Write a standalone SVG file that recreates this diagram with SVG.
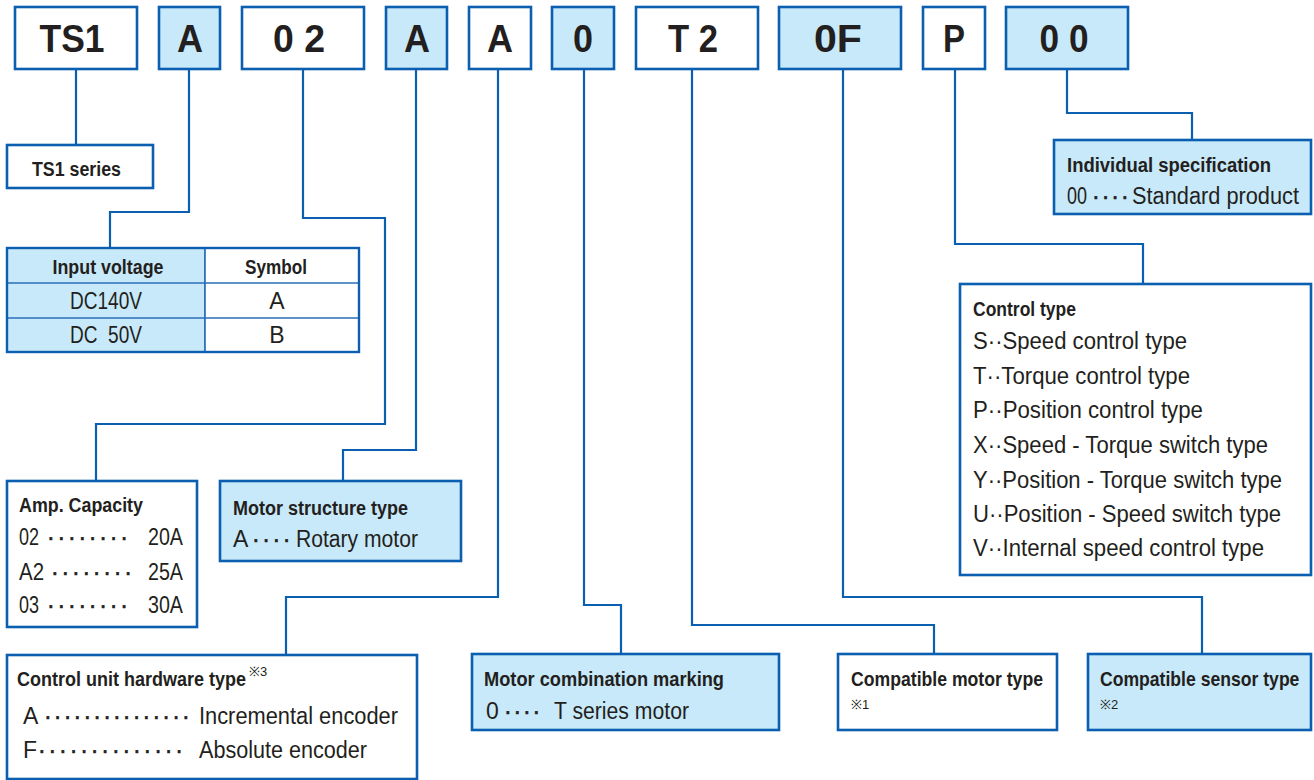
<svg xmlns="http://www.w3.org/2000/svg" width="1314" height="780" viewBox="0 0 1314 780">
<style>
.bw{fill:#ffffff;stroke:#0a5fb0;stroke-width:2.6}
.bb{fill:#c8e9f9;stroke:#0a5fb0;stroke-width:2.6}
.tb{fill:#c8e9f9;stroke:#2a6fb8;stroke-width:1.6}
.cn{fill:none;stroke:#0a5fb0;stroke-width:2.2}
text{font-family:"Liberation Sans",Arial,sans-serif;fill:#231f20}
.big{font-size:38px;font-weight:bold;text-anchor:middle}
.t{font-size:20px;font-weight:bold}
.r{font-size:23px}
.d{font-size:23px;stroke:#231f20;stroke-width:0.6}
.s{font-size:13px}
.c{text-anchor:middle}
</style>
<g id="connectors">
<path class="cn" d="M76 69V145"/>
<path class="cn" d="M189 69V212H110V248"/>
<path class="cn" d="M303 69V218H385V424H96V481"/>
<path class="cn" d="M416 69V450H343V481"/>
<path class="cn" d="M498 69V597H286V655"/>
<path class="cn" d="M584 69V605H621V654"/>
<path class="cn" d="M692 69V625H934V654"/>
<path class="cn" d="M843 69V597H1202V654"/>
<path class="cn" d="M955 69V244H1143V284"/>
<path class="cn" d="M1067 69V113H1192V140"/>
</g>
<g id="code-TS1"><rect class="bw" x="15" y="7" width="122" height="62"/><text class="big" x="72" y="52" textLength="65" lengthAdjust="spacingAndGlyphs">TS1</text></g>
<g id="code-A1"><rect class="bb" x="159" y="7" width="61" height="62"/><text class="big" x="190" y="52" textLength="26" lengthAdjust="spacingAndGlyphs">A</text></g>
<g id="code-02"><rect class="bw" x="242" y="7" width="122" height="62"/><text class="big" x="299" y="52" textLength="52" lengthAdjust="spacingAndGlyphs">0 2</text></g>
<g id="code-A2"><rect class="bb" x="386" y="7" width="61" height="62"/><text class="big" x="417" y="52" textLength="26" lengthAdjust="spacingAndGlyphs">A</text></g>
<g id="code-A3"><rect class="bw" x="469" y="7" width="62" height="62"/><text class="big" x="500" y="52" textLength="26" lengthAdjust="spacingAndGlyphs">A</text></g>
<g id="code-0"><rect class="bb" x="552" y="7" width="62" height="62"/><text class="big" x="583" y="52" textLength="20" lengthAdjust="spacingAndGlyphs">0</text></g>
<g id="code-T2"><rect class="bw" x="636" y="7" width="122" height="62"/><text class="big" x="693" y="52" textLength="50" lengthAdjust="spacingAndGlyphs">T 2</text></g>
<g id="code-0F"><rect class="bb" x="779" y="7" width="122" height="62"/><text class="big" x="838" y="52" textLength="48" lengthAdjust="spacingAndGlyphs">0F</text></g>
<g id="code-P"><rect class="bw" x="923" y="7" width="62" height="62"/><text class="big" x="954" y="52" textLength="22" lengthAdjust="spacingAndGlyphs">P</text></g>
<g id="code-00"><rect class="bb" x="1006" y="7" width="122" height="62"/><text class="big" x="1064" y="52" textLength="49" lengthAdjust="spacingAndGlyphs">0 0</text></g>

<g id="series"><rect class="bw" x="7" y="145" width="146" height="43"/><text class="t" x="32" y="176" textLength="89" lengthAdjust="spacingAndGlyphs">TS1 series</text></g>

<g id="input-voltage">
<rect class="tb" x="7" y="248" width="198" height="104"/>
<rect x="205" y="248" width="154" height="104" fill="#ffffff" stroke="#2a6fb8" stroke-width="1.6"/>
<path d="M7 283H359M7 318H359" stroke="#2a6fb8" stroke-width="1.6" fill="none"/>
<rect x="7" y="248" width="352" height="104" fill="none" stroke="#0a5fb0" stroke-width="2.4"/>
<text class="t c" x="108" y="274" textLength="111" lengthAdjust="spacingAndGlyphs">Input voltage</text>
<text class="t c" x="276" y="274" textLength="62" lengthAdjust="spacingAndGlyphs">Symbol</text>
<text class="r c" x="106" y="309" textLength="72" lengthAdjust="spacingAndGlyphs">DC140V</text>
<text class="r c" x="277" y="309">A</text>
<text class="r c" x="106" y="343" textLength="72" lengthAdjust="spacingAndGlyphs" xml:space="preserve">DC  50V</text>
<text class="r c" x="277" y="343">B</text>
</g>

<g id="amp-capacity">
<rect class="bw" x="7" y="481" width="190" height="146"/>
<text class="t" x="19" y="512" textLength="124" lengthAdjust="spacingAndGlyphs">Amp. Capacity</text>
<text class="r" x="19" y="545" textLength="20" lengthAdjust="spacingAndGlyphs">02</text><text class="d" x="47" y="545" style="letter-spacing:2.8px">········</text><text class="r" x="148" y="545" textLength="35" lengthAdjust="spacingAndGlyphs">20A</text>
<text class="r" x="19" y="580" textLength="25" lengthAdjust="spacingAndGlyphs">A2</text><text class="d" x="51" y="580" style="letter-spacing:2.8px">········</text><text class="r" x="148" y="580" textLength="35" lengthAdjust="spacingAndGlyphs">25A</text>
<text class="r" x="19" y="613" textLength="20" lengthAdjust="spacingAndGlyphs">03</text><text class="d" x="47" y="613" style="letter-spacing:2.8px">········</text><text class="r" x="148" y="613" textLength="35" lengthAdjust="spacingAndGlyphs">30A</text>
</g>

<g id="motor-structure">
<rect class="bb" x="220" y="481" width="241" height="80"/>
<text class="t" x="233" y="515" textLength="175" lengthAdjust="spacingAndGlyphs">Motor structure type</text>
<text class="r" x="233" y="547">A</text><text class="d" x="252" y="547" style="letter-spacing:2.6px">····</text><text class="r" x="296" y="547" textLength="122" lengthAdjust="spacingAndGlyphs">Rotary motor</text>
</g>

<g id="control-unit">
<rect class="bw" x="7" y="655" width="410" height="124"/>
<text class="t" transform="translate(17 686) scale(0.9 1)">Control unit hardware type</text>
<text class="s" x="249" y="676">※3</text>
<text class="r" x="23" y="724">A</text><text class="d" x="44" y="724" style="letter-spacing:2.2px">···············</text><text class="r" x="199" y="724" textLength="199" lengthAdjust="spacingAndGlyphs">Incremental encoder</text>
<text class="r" x="23" y="758">F</text><text class="d" x="38" y="758" style="letter-spacing:2.9px">··············</text><text class="r" x="199" y="758" textLength="168" lengthAdjust="spacingAndGlyphs">Absolute encoder</text>
</g>

<g id="motor-combination">
<rect class="bb" x="472" y="654" width="307" height="76"/>
<text class="t" x="484" y="686" textLength="240" lengthAdjust="spacingAndGlyphs">Motor combination marking</text>
<text class="r" x="486" y="719">0</text><text class="d" x="504" y="719" style="letter-spacing:1.8px">····</text><text class="r" x="554" y="719" textLength="135" lengthAdjust="spacingAndGlyphs">T series motor</text>
</g>

<g id="compatible-motor">
<rect class="bw" x="838" y="654" width="219" height="76"/>
<text class="t" x="851" y="686" textLength="192" lengthAdjust="spacingAndGlyphs">Compatible motor type</text>
<text class="s" x="851" y="709">※1</text>
</g>

<g id="compatible-sensor">
<rect class="bb" x="1088" y="654" width="223" height="76"/>
<text class="t" transform="translate(1100 686) scale(0.88 1)">Compatible sensor type</text>
<text class="s" x="1100" y="709">※2</text>
</g>

<g id="individual-spec">
<rect class="bb" x="1054" y="140" width="257" height="74"/>
<text class="t" x="1067" y="172" textLength="204" lengthAdjust="spacingAndGlyphs">Individual specification</text>
<text class="r" x="1067" y="204" textLength="20" lengthAdjust="spacingAndGlyphs">00</text><text class="d" x="1092" y="204" style="letter-spacing:2px">····</text><text class="r" x="1132" y="204" textLength="167" lengthAdjust="spacingAndGlyphs">Standard product</text>
</g>

<g id="control-type">
<rect class="bw" x="960" y="284" width="351" height="291"/>
<text class="t" x="973" y="316" textLength="103" lengthAdjust="spacingAndGlyphs">Control type</text>
<text class="r" x="973" y="349" textLength="214" lengthAdjust="spacingAndGlyphs">S··Speed control type</text>
<text class="r" x="973" y="384" textLength="217" lengthAdjust="spacingAndGlyphs">T··Torque control type</text>
<text class="r" x="973" y="418" textLength="230" lengthAdjust="spacingAndGlyphs">P··Position control type</text>
<text class="r" x="973" y="453" textLength="295" lengthAdjust="spacingAndGlyphs">X··Speed - Torque switch type</text>
<text class="r" x="973" y="488" textLength="309" lengthAdjust="spacingAndGlyphs">Y··Position - Torque switch type</text>
<text class="r" x="973" y="522" textLength="308" lengthAdjust="spacingAndGlyphs">U··Position - Speed switch type</text>
<text class="r" x="973" y="556" textLength="291" lengthAdjust="spacingAndGlyphs">V··Internal speed control type</text>
</g>
</svg>
